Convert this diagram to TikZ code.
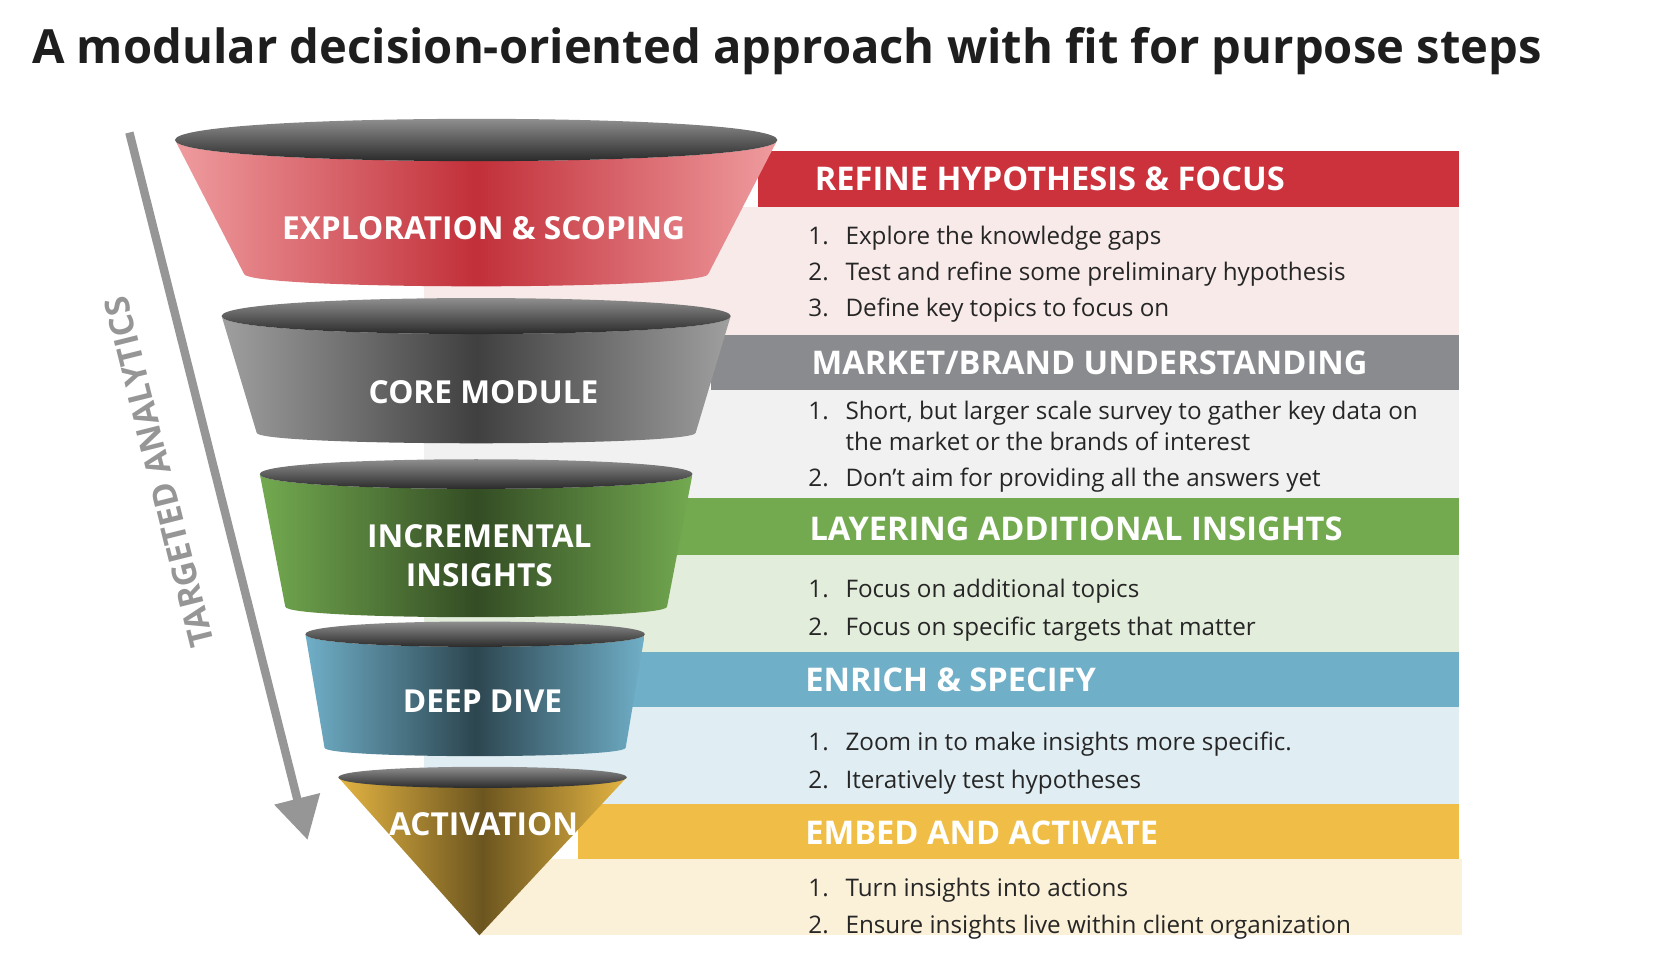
\documentclass[tikz,border=0pt]{standalone}
\usepackage{fontspec}
\setmainfont{Open Sans}
\usetikzlibrary{arrows.meta,positioning}
\definecolor{hdred}{RGB}{204,50,60}
\definecolor{hdgray}{RGB}{137,139,142}
\definecolor{hdgreen}{RGB}{115,170,80}
\definecolor{hdblue}{RGB}{112,175,200}
\definecolor{hdgold}{RGB}{240,190,70}
\definecolor{bgred}{RGB}{249,234,234}
\definecolor{bggray}{RGB}{241,241,241}
\definecolor{bggreen}{RGB}{227,237,220}
\definecolor{bgblue}{RGB}{224,238,244}
\definecolor{bggold}{RGB}{251,240,216}
\definecolor{arrowgray}{RGB}{150,150,150}
\definecolor{titleblack}{RGB}{30,30,30}

% funnel body: cx, ytop, rtop, rytop, ybot, rbot, rybot, side colour, middle colour
\newcommand\funnelbody[9]{%
  \shade[left color=#8, right color=#8, middle color=#9]
    (#1-#3,#2) .. controls (#1-#3,#2+1.33*#4) and (#1+#3,#2+1.33*#4) .. (#1+#3,#2)
    -- (#1+#6,#5) .. controls (#1+#6,#5+1.33*#7) and (#1-#6,#5+1.33*#7) .. (#1-#6,#5) -- cycle;
}
% dark rim: cx, y, rx, ry
\newcommand\funneltop[4]{%
  \shade[top color=gray!75, bottom color=black!90]
    (#1-#3,#2) .. controls (#1-#3,#2-1.33*#4) and (#1+#3,#2-1.33*#4) .. (#1+#3,#2)
    .. controls (#1+#3,#2+1.33*#4) and (#1-#3,#2+1.33*#4) .. (#1-#3,#2) -- cycle;
}

\tikzset{
  headtext/.style={anchor=west, text=white, font=\fontsize{17.5}{20}\selectfont\bfseries, inner sep=0pt},
  funneltext/.style={text=white, font=\fontsize{17}{21}\selectfont\bfseries, align=center, inner sep=0pt},
  listtext/.style={anchor=north west, font=\fontsize{13}{17}\selectfont, align=left, inner sep=0pt, text=black!85},
}

\begin{document}
\begin{tikzpicture}[x=0.02cm, y=-0.02cm]
\useasboundingbox (0,0) rectangle (1570,904);

% Title
\node[anchor=base west, inner sep=0pt, text=titleblack, font=\fontsize{25.3}{30}\selectfont\bfseries] (title) at (30,60)
  {A modular decision-oriented approach with fit for purpose steps};

% Light panels
\fill[bgred]   (400,195) rectangle (1376,316);
\fill[bggray]  (400,368) rectangle (1376,470);
\fill[bggreen] (400,523) rectangle (1376,615);
\fill[bgblue]  (400,667) rectangle (1376,758);
\fill[bggold]  (452,810) rectangle (1379,882);

% Header bands
\fill[hdred]   (715,142) rectangle (1376,195);
\fill[hdgray]  (670,316) rectangle (1376,368);
\fill[hdgreen] (635,470) rectangle (1376,523);
\fill[hdblue]  (595,615) rectangle (1376,667);
\fill[hdgold]  (545,758) rectangle (1376,810);

\node[headtext] (h1) at (768,169) {REFINE HYPOTHESIS \& FOCUS};
\node[headtext] (h2) at (765,342) {MARKET/BRAND UNDERSTANDING};
\node[headtext] (h3) at (763,499) {LAYERING ADDITIONAL INSIGHTS};
\node[headtext] (h4) at (759,641) {ENRICH \& SPECIFY};
\node[headtext] (h5) at (759,785) {EMBED AND ACTIVATE};

% Lists
\node[listtext] (l1) at (762,209) {\begin{tabular}{@{}l@{\hspace{9pt}}l@{}}
  1. & Explore the knowledge gaps\\[2.3pt]
  2. & Test and refine some preliminary hypothesis\\[2.3pt]
  3. & Define key topics to focus on\end{tabular}};
\node[listtext] (l2) at (762,374) {\begin{tabular}{@{}l@{\hspace{9pt}}l@{}}
  1. & Short, but larger scale survey to gather key data on\\
     & the market or the brands of interest\\[2pt]
  2. & Don’t aim for providing all the answers yet\end{tabular}};
\node[listtext] (l3) at (762,542) {\begin{tabular}{@{}l@{\hspace{9pt}}l@{}}
  1. & Focus on additional topics\\[3.4pt]
  2. & Focus on specific targets that matter\end{tabular}};
\node[listtext] (l4) at (762,686) {\begin{tabular}{@{}l@{\hspace{9pt}}l@{}}
  1. & Zoom in to make insights more specific.\\[3.4pt]
  2. & Iteratively test hypotheses\end{tabular}};
\node[listtext] (l5) at (762,824) {\begin{tabular}{@{}l@{\hspace{9pt}}l@{}}
  1. & Turn insights into actions\\[3pt]
  2. & Ensure insights live within client organization\end{tabular}};

% Funnel
\funnelbody{449}{132}{284}{20}{258}{219}{12}{red!30!hdred!45}{hdred!95!black}
\funneltop{449}{132}{284}{20}
\funnelbody{449}{298}{240}{17}{408}{207}{10}{gray!75}{black!75}
\funneltop{449}{298}{240}{17}
\funnelbody{449}{447}{204}{14}{572}{180}{10}{hdgreen}{hdgreen!45!black}
\funneltop{449}{447}{204}{14}
\funnelbody{448}{598}{160}{12}{705}{142}{8}{hdblue}{hdblue!40!black}
\funneltop{448}{598}{160}{12}
\shade[left color=hdgold!95!black, right color=hdgold!95!black, middle color=hdgold!45!black]
  (319,733) .. controls (319,741) and (591,741) .. (591,733) -- (452,882) -- cycle;
\funneltop{455}{733}{136}{10}

\node[funneltext] (f1) at (456,215) {EXPLORATION \& SCOPING};
\node[funneltext] (f2) at (456,370) {CORE MODULE};
\node[funneltext] (f3) at (452,524) {INCREMENTAL\\INSIGHTS};
\node[funneltext] (f4) at (455,661) {DEEP DIVE};
\node[funneltext] (f5) at (456,777) {ACTIVATION};

% Targeted analytics arrow
\coordinate (astart) at (122,125);
\coordinate (aend) at (290,792);
\draw[arrowgray, line width=4.5pt, -{Triangle[length=0.8cm, width=0.85cm]}] (astart) -- (aend);
\node[text=arrowgray, rotate=104, font=\fontsize{18}{20}\selectfont\bfseries] (alabel) at (150,445) {TARGETED ANALYTICS};

\end{tikzpicture}
\end{document}
